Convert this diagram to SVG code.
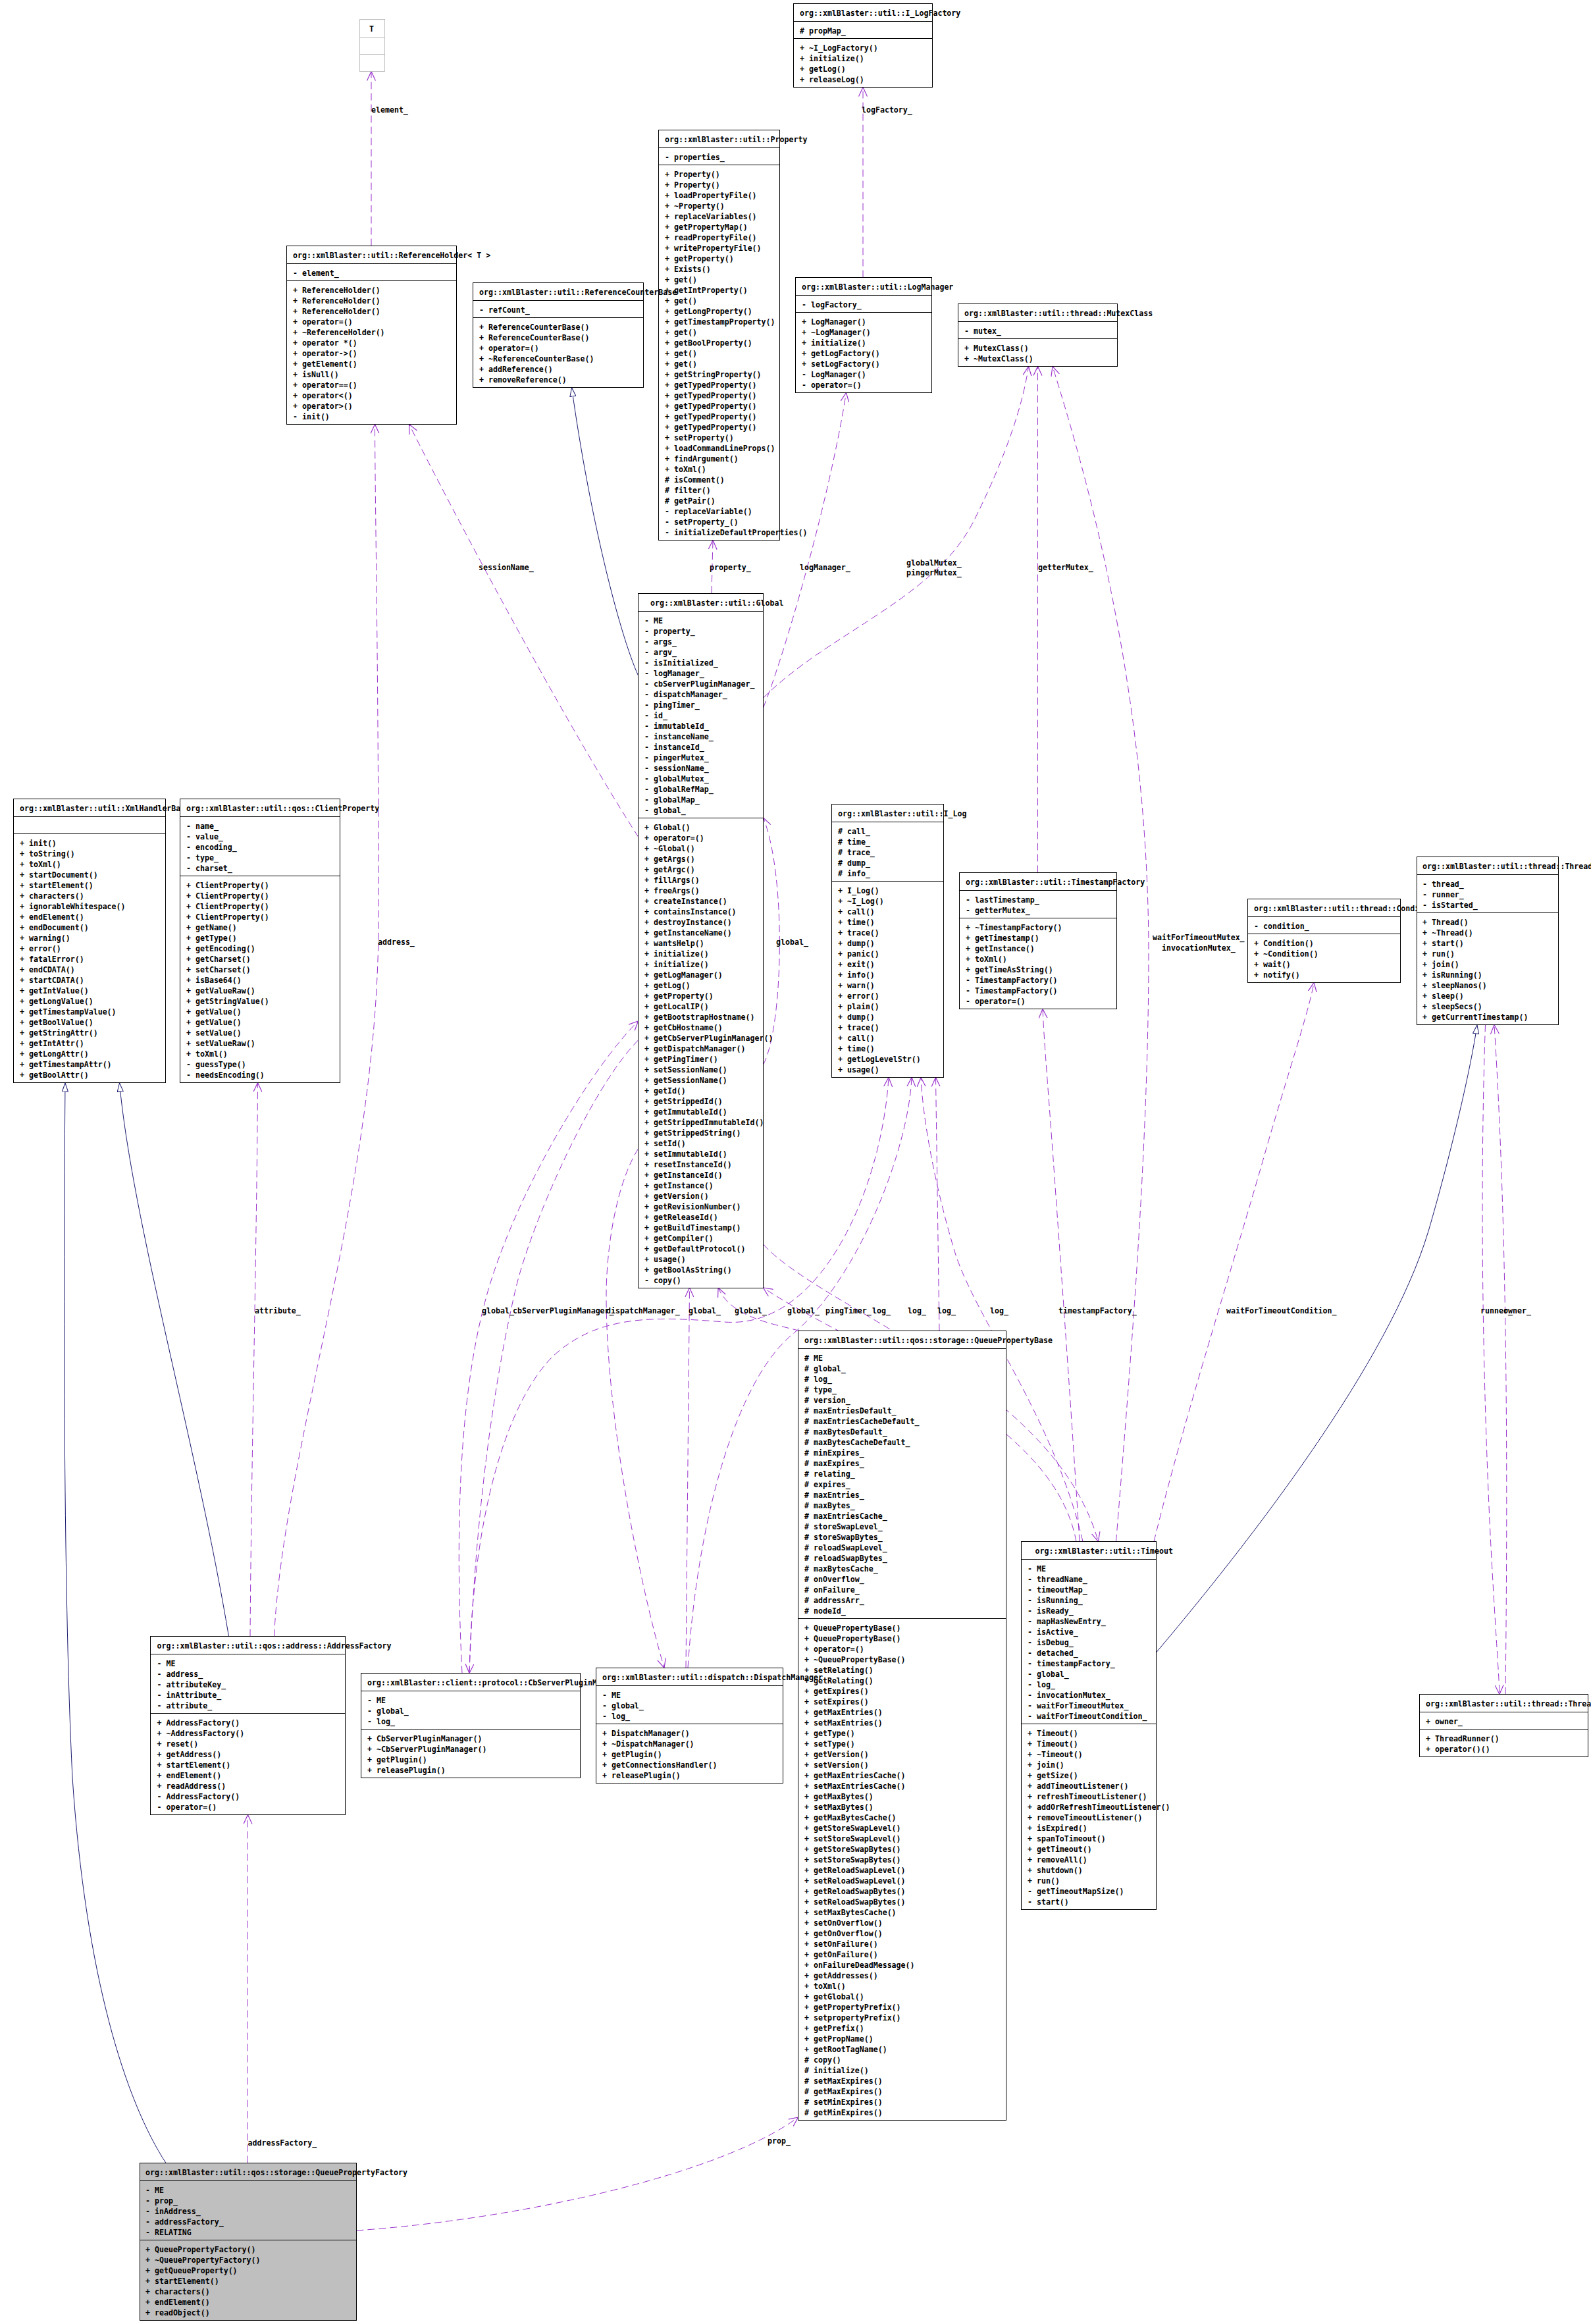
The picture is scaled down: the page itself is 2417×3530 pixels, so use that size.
<svg xmlns="http://www.w3.org/2000/svg" width="2417" height="3530" viewBox="0 0 2417 3530">
<style>
.t{font-family:"DejaVu Sans Mono","Liberation Mono",monospace;font-size:11.6px;font-weight:bold;fill:#000}
.b{fill:#fff;stroke:#000;stroke-width:1}
.gb{fill:#bfbfbf;stroke:#000;stroke-width:1}
.tb{fill:#fff;stroke:#bfbfbf;stroke-width:1}
.s{stroke:#000;stroke-width:1}
.sg{stroke:#bfbfbf;stroke-width:1}
.e{fill:none;stroke:#9a32cd;stroke-width:1;stroke-dasharray:11,6}
.i{fill:none;stroke:#191970;stroke-width:1}
</style>
<defs>
<marker id="ov" viewBox="0 0 14 14" refX="14" refY="7" markerWidth="14" markerHeight="14" orient="auto" markerUnits="userSpaceOnUse"><path d="M0,0.5 L14,7 L0,13.5" fill="none" stroke="#9a32cd" stroke-width="1.2"/></marker>
<marker id="tri" viewBox="0 0 14 10" refX="14" refY="5" markerWidth="14" markerHeight="10" orient="auto" markerUnits="userSpaceOnUse"><path d="M0.5,0.5 L13.5,5 L0.5,9.5 Z" fill="#fff" stroke="#191970" stroke-width="1"/></marker>
</defs>
<rect width="2417" height="3530" fill="#fff"/>

<g id="edges">
<path class="e" marker-end="url(#ov)" d="M564,373.5 L564,108.5"/>
<path class="e" marker-end="url(#ov)" d="M1311,421.5 L1311,132.5"/>
<path class="e" marker-end="url(#ov)" d="M969.5,1271 C860,1100 700,800 621.5,644.5"/>
<path class="e" marker-end="url(#ov)" d="M416.5,2485.5 C430,2200 575,1800 575,1400 C575,1000 570,800 569.5,644.5"/>
<path class="e" marker-end="url(#ov)" d="M380,2485.5 C382,2200 390,1900 391.5,1644.5"/>
<path class="i" marker-end="url(#tri)" d="M969.5,1026 C940,960 895,780 868.5,588.5"/>
<path class="e" marker-end="url(#ov)" d="M1081,901 L1083,820.5"/>
<path class="e" marker-end="url(#ov)" d="M1159.5,1075 C1190,1000 1260,760 1285.5,596.5"/>
<path class="e" marker-end="url(#ov)" d="M1159.5,1060 C1260,960 1420,910 1480,790 C1530,690 1555,610 1562.5,556.5"/>
<path class="e" marker-end="url(#ov)" d="M1576.5,1325.5 L1576.5,556.5"/>
<path class="e" marker-end="url(#ov)" d="M1695.5,2341.5 C1715,2100 1745,1750 1745,1450 C1745,1050 1650,720 1599,556.5"/>
<path class="e" marker-end="url(#ov)" d="M1640,2341.5 C1628,2150 1610,1900 1600,1760 C1592,1650 1586,1580 1584,1532.5"/>
<path class="e" marker-end="url(#ov)" d="M1753,2341.5 C1800,2150 1880,1900 1925,1740 C1960,1620 1990,1530 1996,1492.5"/>
<path class="i" marker-end="url(#tri)" d="M1756.5,2510 C1900,2340 2110,2070 2170,1870 C2205,1750 2235,1620 2244,1556.5"/>
<path class="e" marker-end="url(#ov)" d="M2256.5,1556.5 C2248,1800 2252,2100 2265,2350 C2272,2480 2277,2540 2278,2573.5"/>
<path class="e" marker-end="url(#ov)" d="M2287,2573.5 C2290,2300 2292,1900 2270,1556.5"/>
<path class="e" marker-end="url(#ov)" d="M1159.5,1617 C1190,1560 1195,1330 1159.5,1242"/>
<path class="e" marker-end="url(#ov)" d="M702,2541.5 C690,2300 700,2100 743,1955 C790,1800 900,1620 969.5,1551"/>
<path class="e" marker-end="url(#ov)" d="M969.5,1580 C900,1650 810,1850 784,1955 C750,2100 722,2300 713,2541.5"/>
<path class="e" marker-end="url(#ov)" d="M969.5,1745 C935,1800 921,1900 921,1968 C921,2150 970,2400 1009,2533.5"/>
<path class="e" marker-end="url(#ov)" d="M713,2541.5 C718,2300 770,2130 840,2060 C910,1995 1000,2000 1100,2008 C1250,2020 1340,1800 1350,1636.5"/>
<path class="e" marker-end="url(#ov)" d="M1042,2533.5 L1047.5,1956"/>
<path class="e" marker-end="url(#ov)" d="M1045,2533.5 C1060,2300 1120,2100 1200,2030 C1300,1950 1380,1750 1385,1636.5"/>
<path class="e" marker-end="url(#ov)" d="M1215,2021.5 C1170,2010 1110,2000 1091,1956"/>
<path class="e" marker-end="url(#ov)" d="M1427,2021.5 L1421.5,1636.5"/>
<path class="e" marker-end="url(#ov)" d="M1635,2341.5 C1600,2150 1300,2050 1159.5,1956"/>
<path class="e" marker-end="url(#ov)" d="M1159.5,1890 C1250,1990 1600,2100 1668.5,2341.5"/>
<path class="e" marker-end="url(#ov)" d="M1645,2341.5 C1600,2150 1480,2000 1450,1900 C1420,1800 1402,1700 1399,1636.5"/>
<path class="e" marker-end="url(#ov)" d="M376.5,3285.5 L376.5,2756.5"/>
<path class="e" marker-end="url(#ov)" d="M541.5,3388 C800,3370 1100,3300 1212.5,3216"/>
<path class="i" marker-end="url(#tri)" d="M252,3285.5 C190,3190 130,3000 110,2700 C95,2400 97,1900 99,1644.5"/>
<path class="i" marker-end="url(#tri)" d="M347.5,2485.5 C300,2200 200,1850 181.5,1644.5"/>
<g class="t">
<text x="564" y="171">element_</text>
<text x="1309" y="171">logFactory_</text>
<text x="727" y="866">sessionName_</text>
<text x="1078" y="866">property_</text>
<text x="1215" y="866">logManager_</text>
<text x="1377" y="859">globalMutex_</text>
<text x="1377" y="874">pingerMutex_</text>
<text x="1577" y="866">getterMutex_</text>
<text x="1751" y="1428">waitForTimeoutMutex_</text>
<text x="1765" y="1444">invocationMutex_</text>
<text x="1179" y="1435">global_</text>
<text x="574" y="1435">address_</text>
<text x="387" y="1995">attribute_</text>
<text x="732" y="1995">global_</text>
<text x="779" y="1995">cbServerPluginManager_</text>
<text x="921" y="1995">dispatchManager_</text>
<text x="1046" y="1995">global_</text>
<text x="1116" y="1995">global_</text>
<text x="1196" y="1995">global_</text>
<text x="1254" y="1995">pingTimer_</text>
<text x="1325" y="1995">log_</text>
<text x="1379" y="1995">log_</text>
<text x="1424" y="1995">log_</text>
<text x="1504" y="1995">log_</text>
<text x="1608" y="1995">timestampFactory_</text>
<text x="1863" y="1995">waitForTimeoutCondition_</text>
<text x="2249" y="1995">runner_</text>
<text x="2284" y="1995">owner_</text>
<text x="376.5" y="3259">addressFactory_</text>
<text x="1166" y="3256">prop_</text>
</g>
</g>

<g id="T">
<rect class="tb" x="546.5" y="29.5" width="38" height="79"/>
<line class="sg" x1="546.5" y1="56.5" x2="584.5" y2="56.5"/>
<line class="sg" x1="546.5" y1="82.5" x2="584.5" y2="82.5"/>
<text class="t" x="561" y="47.5">T</text>
</g>

<g id="I_LogFactory">
<rect class="b" x="1205.5" y="5.5" width="211" height="127"/>
<line class="s" x1="1205.5" y1="32.5" x2="1416.5" y2="32.5"/>
<line class="s" x1="1205.5" y1="58.5" x2="1416.5" y2="58.5"/>
<text class="t" x="1215" y="23.5">org::xmlBlaster::util::I_LogFactory</text>
<text class="t" x="1215" y="50.5"># propMap_</text>
<text class="t" x="1215" y="76.5">+ ~I_LogFactory()<tspan x="1215" dy="16">+ initialize()</tspan><tspan x="1215" dy="16">+ getLog()</tspan><tspan x="1215" dy="16">+ releaseLog()</tspan></text>
</g>

<g id="Property">
<rect class="b" x="1000.5" y="197.5" width="184" height="623"/>
<line class="s" x1="1000.5" y1="224.5" x2="1184.5" y2="224.5"/>
<line class="s" x1="1000.5" y1="250.5" x2="1184.5" y2="250.5"/>
<text class="t" x="1010" y="215.5">org::xmlBlaster::util::Property</text>
<text class="t" x="1010" y="242.5">- properties_</text>
<text class="t" x="1010" y="268.5">+ Property()<tspan x="1010" dy="16">+ Property()</tspan><tspan x="1010" dy="16">+ loadPropertyFile()</tspan><tspan x="1010" dy="16">+ ~Property()</tspan><tspan x="1010" dy="16">+ replaceVariables()</tspan><tspan x="1010" dy="16">+ getPropertyMap()</tspan><tspan x="1010" dy="16">+ readPropertyFile()</tspan><tspan x="1010" dy="16">+ writePropertyFile()</tspan><tspan x="1010" dy="16">+ getProperty()</tspan><tspan x="1010" dy="16">+ Exists()</tspan><tspan x="1010" dy="16">+ get()</tspan><tspan x="1010" dy="16">+ getIntProperty()</tspan><tspan x="1010" dy="16">+ get()</tspan><tspan x="1010" dy="16">+ getLongProperty()</tspan><tspan x="1010" dy="16">+ getTimestampProperty()</tspan><tspan x="1010" dy="16">+ get()</tspan><tspan x="1010" dy="16">+ getBoolProperty()</tspan><tspan x="1010" dy="16">+ get()</tspan><tspan x="1010" dy="16">+ get()</tspan><tspan x="1010" dy="16">+ getStringProperty()</tspan><tspan x="1010" dy="16">+ getTypedProperty()</tspan><tspan x="1010" dy="16">+ getTypedProperty()</tspan><tspan x="1010" dy="16">+ getTypedProperty()</tspan><tspan x="1010" dy="16">+ getTypedProperty()</tspan><tspan x="1010" dy="16">+ getTypedProperty()</tspan><tspan x="1010" dy="16">+ setProperty()</tspan><tspan x="1010" dy="16">+ loadCommandLineProps()</tspan><tspan x="1010" dy="16">+ findArgument()</tspan><tspan x="1010" dy="16">+ toXml()</tspan><tspan x="1010" dy="16"># isComment()</tspan><tspan x="1010" dy="16"># filter()</tspan><tspan x="1010" dy="16"># getPair()</tspan><tspan x="1010" dy="16">- replaceVariable()</tspan><tspan x="1010" dy="16">- setProperty_()</tspan><tspan x="1010" dy="16">- initializeDefaultProperties()</tspan></text>
</g>

<g id="ReferenceHolder">
<rect class="b" x="435.5" y="373.5" width="258" height="271"/>
<line class="s" x1="435.5" y1="400.5" x2="693.5" y2="400.5"/>
<line class="s" x1="435.5" y1="426.5" x2="693.5" y2="426.5"/>
<text class="t" x="445" y="391.5">org::xmlBlaster::util::ReferenceHolder&lt; T &gt;</text>
<text class="t" x="445" y="418.5">- element_</text>
<text class="t" x="445" y="444.5">+ ReferenceHolder()<tspan x="445" dy="16">+ ReferenceHolder()</tspan><tspan x="445" dy="16">+ ReferenceHolder()</tspan><tspan x="445" dy="16">+ operator=()</tspan><tspan x="445" dy="16">+ ~ReferenceHolder()</tspan><tspan x="445" dy="16">+ operator *()</tspan><tspan x="445" dy="16">+ operator-&gt;()</tspan><tspan x="445" dy="16">+ getElement()</tspan><tspan x="445" dy="16">+ isNull()</tspan><tspan x="445" dy="16">+ operator==()</tspan><tspan x="445" dy="16">+ operator&lt;()</tspan><tspan x="445" dy="16">+ operator&gt;()</tspan><tspan x="445" dy="16">- init()</tspan></text>
</g>

<g id="ReferenceCounterBase">
<rect class="b" x="718.5" y="429.5" width="259" height="159"/>
<line class="s" x1="718.5" y1="456.5" x2="977.5" y2="456.5"/>
<line class="s" x1="718.5" y1="482.5" x2="977.5" y2="482.5"/>
<text class="t" x="728" y="447.5">org::xmlBlaster::util::ReferenceCounterBase</text>
<text class="t" x="728" y="474.5">- refCount_</text>
<text class="t" x="728" y="500.5">+ ReferenceCounterBase()<tspan x="728" dy="16">+ ReferenceCounterBase()</tspan><tspan x="728" dy="16">+ operator=()</tspan><tspan x="728" dy="16">+ ~ReferenceCounterBase()</tspan><tspan x="728" dy="16">+ addReference()</tspan><tspan x="728" dy="16">+ removeReference()</tspan></text>
</g>

<g id="LogManager">
<rect class="b" x="1208.5" y="421.5" width="207" height="175"/>
<line class="s" x1="1208.5" y1="448.5" x2="1415.5" y2="448.5"/>
<line class="s" x1="1208.5" y1="474.5" x2="1415.5" y2="474.5"/>
<text class="t" x="1218" y="439.5">org::xmlBlaster::util::LogManager</text>
<text class="t" x="1218" y="466.5">- logFactory_</text>
<text class="t" x="1218" y="492.5">+ LogManager()<tspan x="1218" dy="16">+ ~LogManager()</tspan><tspan x="1218" dy="16">+ initialize()</tspan><tspan x="1218" dy="16">+ getLogFactory()</tspan><tspan x="1218" dy="16">+ setLogFactory()</tspan><tspan x="1218" dy="16">- LogManager()</tspan><tspan x="1218" dy="16">- operator=()</tspan></text>
</g>

<g id="MutexClass">
<rect class="b" x="1455.5" y="461.5" width="242" height="95"/>
<line class="s" x1="1455.5" y1="488.5" x2="1697.5" y2="488.5"/>
<line class="s" x1="1455.5" y1="514.5" x2="1697.5" y2="514.5"/>
<text class="t" x="1465" y="479.5">org::xmlBlaster::util::thread::MutexClass</text>
<text class="t" x="1465" y="506.5">- mutex_</text>
<text class="t" x="1465" y="532.5">+ MutexClass()<tspan x="1465" dy="16">+ ~MutexClass()</tspan></text>
</g>

<g id="Global">
<rect class="b" x="969.5" y="901.5" width="190" height="1055"/>
<line class="s" x1="969.5" y1="928.5" x2="1159.5" y2="928.5"/>
<line class="s" x1="969.5" y1="1242.5" x2="1159.5" y2="1242.5"/>
<text class="t" x="988" y="919.5">org::xmlBlaster::util::Global</text>
<text class="t" x="979" y="946.5">- ME<tspan x="979" dy="16">- property_</tspan><tspan x="979" dy="16">- args_</tspan><tspan x="979" dy="16">- argv_</tspan><tspan x="979" dy="16">- isInitialized_</tspan><tspan x="979" dy="16">- logManager_</tspan><tspan x="979" dy="16">- cbServerPluginManager_</tspan><tspan x="979" dy="16">- dispatchManager_</tspan><tspan x="979" dy="16">- pingTimer_</tspan><tspan x="979" dy="16">- id_</tspan><tspan x="979" dy="16">- immutableId_</tspan><tspan x="979" dy="16">- instanceName_</tspan><tspan x="979" dy="16">- instanceId_</tspan><tspan x="979" dy="16">- pingerMutex_</tspan><tspan x="979" dy="16">- sessionName_</tspan><tspan x="979" dy="16">- globalMutex_</tspan><tspan x="979" dy="16">- globalRefMap_</tspan><tspan x="979" dy="16">- globalMap_</tspan><tspan x="979" dy="16">- global_</tspan></text>
<text class="t" x="979" y="1260.5">+ Global()<tspan x="979" dy="16">+ operator=()</tspan><tspan x="979" dy="16">+ ~Global()</tspan><tspan x="979" dy="16">+ getArgs()</tspan><tspan x="979" dy="16">+ getArgc()</tspan><tspan x="979" dy="16">+ fillArgs()</tspan><tspan x="979" dy="16">+ freeArgs()</tspan><tspan x="979" dy="16">+ createInstance()</tspan><tspan x="979" dy="16">+ containsInstance()</tspan><tspan x="979" dy="16">+ destroyInstance()</tspan><tspan x="979" dy="16">+ getInstanceName()</tspan><tspan x="979" dy="16">+ wantsHelp()</tspan><tspan x="979" dy="16">+ initialize()</tspan><tspan x="979" dy="16">+ initialize()</tspan><tspan x="979" dy="16">+ getLogManager()</tspan><tspan x="979" dy="16">+ getLog()</tspan><tspan x="979" dy="16">+ getProperty()</tspan><tspan x="979" dy="16">+ getLocalIP()</tspan><tspan x="979" dy="16">+ getBootstrapHostname()</tspan><tspan x="979" dy="16">+ getCbHostname()</tspan><tspan x="979" dy="16">+ getCbServerPluginManager()</tspan><tspan x="979" dy="16">+ getDispatchManager()</tspan><tspan x="979" dy="16">+ getPingTimer()</tspan><tspan x="979" dy="16">+ setSessionName()</tspan><tspan x="979" dy="16">+ getSessionName()</tspan><tspan x="979" dy="16">+ getId()</tspan><tspan x="979" dy="16">+ getStrippedId()</tspan><tspan x="979" dy="16">+ getImmutableId()</tspan><tspan x="979" dy="16">+ getStrippedImmutableId()</tspan><tspan x="979" dy="16">+ getStrippedString()</tspan><tspan x="979" dy="16">+ setId()</tspan><tspan x="979" dy="16">+ setImmutableId()</tspan><tspan x="979" dy="16">+ resetInstanceId()</tspan><tspan x="979" dy="16">+ getInstanceId()</tspan><tspan x="979" dy="16">+ getInstance()</tspan><tspan x="979" dy="16">+ getVersion()</tspan><tspan x="979" dy="16">+ getRevisionNumber()</tspan><tspan x="979" dy="16">+ getReleaseId()</tspan><tspan x="979" dy="16">+ getBuildTimestamp()</tspan><tspan x="979" dy="16">+ getCompiler()</tspan><tspan x="979" dy="16">+ getDefaultProtocol()</tspan><tspan x="979" dy="16">+ usage()</tspan><tspan x="979" dy="16">+ getBoolAsString()</tspan><tspan x="979" dy="16">- copy()</tspan></text>
</g>

<g id="XmlHandlerBase">
<rect class="b" x="20.5" y="1213.5" width="231" height="431"/>
<line class="s" x1="20.5" y1="1240.5" x2="251.5" y2="1240.5"/>
<line class="s" x1="20.5" y1="1266.5" x2="251.5" y2="1266.5"/>
<text class="t" x="30" y="1231.5">org::xmlBlaster::util::XmlHandlerBase</text>
<text class="t" x="30" y="1284.5">+ init()<tspan x="30" dy="16">+ toString()</tspan><tspan x="30" dy="16">+ toXml()</tspan><tspan x="30" dy="16">+ startDocument()</tspan><tspan x="30" dy="16">+ startElement()</tspan><tspan x="30" dy="16">+ characters()</tspan><tspan x="30" dy="16">+ ignorableWhitespace()</tspan><tspan x="30" dy="16">+ endElement()</tspan><tspan x="30" dy="16">+ endDocument()</tspan><tspan x="30" dy="16">+ warning()</tspan><tspan x="30" dy="16">+ error()</tspan><tspan x="30" dy="16">+ fatalError()</tspan><tspan x="30" dy="16">+ endCDATA()</tspan><tspan x="30" dy="16">+ startCDATA()</tspan><tspan x="30" dy="16">+ getIntValue()</tspan><tspan x="30" dy="16">+ getLongValue()</tspan><tspan x="30" dy="16">+ getTimestampValue()</tspan><tspan x="30" dy="16">+ getBoolValue()</tspan><tspan x="30" dy="16">+ getStringAttr()</tspan><tspan x="30" dy="16">+ getIntAttr()</tspan><tspan x="30" dy="16">+ getLongAttr()</tspan><tspan x="30" dy="16">+ getTimestampAttr()</tspan><tspan x="30" dy="16">+ getBoolAttr()</tspan></text>
</g>

<g id="ClientProperty">
<rect class="b" x="273.5" y="1213.5" width="243" height="431"/>
<line class="s" x1="273.5" y1="1240.5" x2="516.5" y2="1240.5"/>
<line class="s" x1="273.5" y1="1330.5" x2="516.5" y2="1330.5"/>
<text class="t" x="283" y="1231.5">org::xmlBlaster::util::qos::ClientProperty</text>
<text class="t" x="283" y="1258.5">- name_<tspan x="283" dy="16">- value_</tspan><tspan x="283" dy="16">- encoding_</tspan><tspan x="283" dy="16">- type_</tspan><tspan x="283" dy="16">- charset_</tspan></text>
<text class="t" x="283" y="1348.5">+ ClientProperty()<tspan x="283" dy="16">+ ClientProperty()</tspan><tspan x="283" dy="16">+ ClientProperty()</tspan><tspan x="283" dy="16">+ ClientProperty()</tspan><tspan x="283" dy="16">+ getName()</tspan><tspan x="283" dy="16">+ getType()</tspan><tspan x="283" dy="16">+ getEncoding()</tspan><tspan x="283" dy="16">+ getCharset()</tspan><tspan x="283" dy="16">+ setCharset()</tspan><tspan x="283" dy="16">+ isBase64()</tspan><tspan x="283" dy="16">+ getValueRaw()</tspan><tspan x="283" dy="16">+ getStringValue()</tspan><tspan x="283" dy="16">+ getValue()</tspan><tspan x="283" dy="16">+ getValue()</tspan><tspan x="283" dy="16">+ setValue()</tspan><tspan x="283" dy="16">+ setValueRaw()</tspan><tspan x="283" dy="16">+ toXml()</tspan><tspan x="283" dy="16">- guessType()</tspan><tspan x="283" dy="16">- needsEncoding()</tspan></text>
</g>

<g id="I_Log">
<rect class="b" x="1263.5" y="1221.5" width="170" height="415"/>
<line class="s" x1="1263.5" y1="1248.5" x2="1433.5" y2="1248.5"/>
<line class="s" x1="1263.5" y1="1338.5" x2="1433.5" y2="1338.5"/>
<text class="t" x="1273" y="1239.5">org::xmlBlaster::util::I_Log</text>
<text class="t" x="1273" y="1266.5"># call_<tspan x="1273" dy="16"># time_</tspan><tspan x="1273" dy="16"># trace_</tspan><tspan x="1273" dy="16"># dump_</tspan><tspan x="1273" dy="16"># info_</tspan></text>
<text class="t" x="1273" y="1356.5">+ I_Log()<tspan x="1273" dy="16">+ ~I_Log()</tspan><tspan x="1273" dy="16">+ call()</tspan><tspan x="1273" dy="16">+ time()</tspan><tspan x="1273" dy="16">+ trace()</tspan><tspan x="1273" dy="16">+ dump()</tspan><tspan x="1273" dy="16">+ panic()</tspan><tspan x="1273" dy="16">+ exit()</tspan><tspan x="1273" dy="16">+ info()</tspan><tspan x="1273" dy="16">+ warn()</tspan><tspan x="1273" dy="16">+ error()</tspan><tspan x="1273" dy="16">+ plain()</tspan><tspan x="1273" dy="16">+ dump()</tspan><tspan x="1273" dy="16">+ trace()</tspan><tspan x="1273" dy="16">+ call()</tspan><tspan x="1273" dy="16">+ time()</tspan><tspan x="1273" dy="16">+ getLogLevelStr()</tspan><tspan x="1273" dy="16">+ usage()</tspan></text>
</g>

<g id="TimestampFactory">
<rect class="b" x="1457.5" y="1325.5" width="239" height="207"/>
<line class="s" x1="1457.5" y1="1352.5" x2="1696.5" y2="1352.5"/>
<line class="s" x1="1457.5" y1="1394.5" x2="1696.5" y2="1394.5"/>
<text class="t" x="1467" y="1343.5">org::xmlBlaster::util::TimestampFactory</text>
<text class="t" x="1467" y="1370.5">- lastTimestamp_<tspan x="1467" dy="16">- getterMutex_</tspan></text>
<text class="t" x="1467" y="1412.5">+ ~TimestampFactory()<tspan x="1467" dy="16">+ getTimestamp()</tspan><tspan x="1467" dy="16">+ getInstance()</tspan><tspan x="1467" dy="16">+ toXml()</tspan><tspan x="1467" dy="16">+ getTimeAsString()</tspan><tspan x="1467" dy="16">- TimestampFactory()</tspan><tspan x="1467" dy="16">- TimestampFactory()</tspan><tspan x="1467" dy="16">- operator=()</tspan></text>
</g>

<g id="Condition">
<rect class="b" x="1895.5" y="1365.5" width="232" height="127"/>
<line class="s" x1="1895.5" y1="1392.5" x2="2127.5" y2="1392.5"/>
<line class="s" x1="1895.5" y1="1418.5" x2="2127.5" y2="1418.5"/>
<text class="t" x="1905" y="1383.5">org::xmlBlaster::util::thread::Condition</text>
<text class="t" x="1905" y="1410.5">- condition_</text>
<text class="t" x="1905" y="1436.5">+ Condition()<tspan x="1905" dy="16">+ ~Condition()</tspan><tspan x="1905" dy="16">+ wait()</tspan><tspan x="1905" dy="16">+ notify()</tspan></text>
</g>

<g id="Thread">
<rect class="b" x="2152.5" y="1301.5" width="215" height="255"/>
<line class="s" x1="2152.5" y1="1328.5" x2="2367.5" y2="1328.5"/>
<line class="s" x1="2152.5" y1="1386.5" x2="2367.5" y2="1386.5"/>
<text class="t" x="2161" y="1319.5">org::xmlBlaster::util::thread::Thread</text>
<text class="t" x="2161" y="1346.5">- thread_<tspan x="2161" dy="16">- runner_</tspan><tspan x="2161" dy="16">- isStarted_</tspan></text>
<text class="t" x="2161" y="1404.5">+ Thread()<tspan x="2161" dy="16">+ ~Thread()</tspan><tspan x="2161" dy="16">+ start()</tspan><tspan x="2161" dy="16">+ run()</tspan><tspan x="2161" dy="16">+ join()</tspan><tspan x="2161" dy="16">+ isRunning()</tspan><tspan x="2161" dy="16">+ sleepNanos()</tspan><tspan x="2161" dy="16">+ sleep()</tspan><tspan x="2161" dy="16">+ sleepSecs()</tspan><tspan x="2161" dy="16">+ getCurrentTimestamp()</tspan></text>
</g>

<g id="QueuePropertyBase">
<rect class="b" x="1212.5" y="2021.5" width="316" height="1199"/>
<line class="s" x1="1212.5" y1="2048.5" x2="1528.5" y2="2048.5"/>
<line class="s" x1="1212.5" y1="2458.5" x2="1528.5" y2="2458.5"/>
<text class="t" x="1222" y="2039.5">org::xmlBlaster::util::qos::storage::QueuePropertyBase</text>
<text class="t" x="1222" y="2066.5"># ME<tspan x="1222" dy="16"># global_</tspan><tspan x="1222" dy="16"># log_</tspan><tspan x="1222" dy="16"># type_</tspan><tspan x="1222" dy="16"># version_</tspan><tspan x="1222" dy="16"># maxEntriesDefault_</tspan><tspan x="1222" dy="16"># maxEntriesCacheDefault_</tspan><tspan x="1222" dy="16"># maxBytesDefault_</tspan><tspan x="1222" dy="16"># maxBytesCacheDefault_</tspan><tspan x="1222" dy="16"># minExpires_</tspan><tspan x="1222" dy="16"># maxExpires_</tspan><tspan x="1222" dy="16"># relating_</tspan><tspan x="1222" dy="16"># expires_</tspan><tspan x="1222" dy="16"># maxEntries_</tspan><tspan x="1222" dy="16"># maxBytes_</tspan><tspan x="1222" dy="16"># maxEntriesCache_</tspan><tspan x="1222" dy="16"># storeSwapLevel_</tspan><tspan x="1222" dy="16"># storeSwapBytes_</tspan><tspan x="1222" dy="16"># reloadSwapLevel_</tspan><tspan x="1222" dy="16"># reloadSwapBytes_</tspan><tspan x="1222" dy="16"># maxBytesCache_</tspan><tspan x="1222" dy="16"># onOverflow_</tspan><tspan x="1222" dy="16"># onFailure_</tspan><tspan x="1222" dy="16"># addressArr_</tspan><tspan x="1222" dy="16"># nodeId_</tspan></text>
<text class="t" x="1222" y="2476.5">+ QueuePropertyBase()<tspan x="1222" dy="16">+ QueuePropertyBase()</tspan><tspan x="1222" dy="16">+ operator=()</tspan><tspan x="1222" dy="16">+ ~QueuePropertyBase()</tspan><tspan x="1222" dy="16">+ setRelating()</tspan><tspan x="1222" dy="16">+ getRelating()</tspan><tspan x="1222" dy="16">+ getExpires()</tspan><tspan x="1222" dy="16">+ setExpires()</tspan><tspan x="1222" dy="16">+ getMaxEntries()</tspan><tspan x="1222" dy="16">+ setMaxEntries()</tspan><tspan x="1222" dy="16">+ getType()</tspan><tspan x="1222" dy="16">+ setType()</tspan><tspan x="1222" dy="16">+ getVersion()</tspan><tspan x="1222" dy="16">+ setVersion()</tspan><tspan x="1222" dy="16">+ getMaxEntriesCache()</tspan><tspan x="1222" dy="16">+ setMaxEntriesCache()</tspan><tspan x="1222" dy="16">+ getMaxBytes()</tspan><tspan x="1222" dy="16">+ setMaxBytes()</tspan><tspan x="1222" dy="16">+ getMaxBytesCache()</tspan><tspan x="1222" dy="16">+ getStoreSwapLevel()</tspan><tspan x="1222" dy="16">+ setStoreSwapLevel()</tspan><tspan x="1222" dy="16">+ getStoreSwapBytes()</tspan><tspan x="1222" dy="16">+ setStoreSwapBytes()</tspan><tspan x="1222" dy="16">+ getReloadSwapLevel()</tspan><tspan x="1222" dy="16">+ setReloadSwapLevel()</tspan><tspan x="1222" dy="16">+ getReloadSwapBytes()</tspan><tspan x="1222" dy="16">+ setReloadSwapBytes()</tspan><tspan x="1222" dy="16">+ setMaxBytesCache()</tspan><tspan x="1222" dy="16">+ setOnOverflow()</tspan><tspan x="1222" dy="16">+ getOnOverflow()</tspan><tspan x="1222" dy="16">+ setOnFailure()</tspan><tspan x="1222" dy="16">+ getOnFailure()</tspan><tspan x="1222" dy="16">+ onFailureDeadMessage()</tspan><tspan x="1222" dy="16">+ getAddresses()</tspan><tspan x="1222" dy="16">+ toXml()</tspan><tspan x="1222" dy="16">+ getGlobal()</tspan><tspan x="1222" dy="16">+ getPropertyPrefix()</tspan><tspan x="1222" dy="16">+ setpropertyPrefix()</tspan><tspan x="1222" dy="16">+ getPrefix()</tspan><tspan x="1222" dy="16">+ getPropName()</tspan><tspan x="1222" dy="16">+ getRootTagName()</tspan><tspan x="1222" dy="16"># copy()</tspan><tspan x="1222" dy="16"># initialize()</tspan><tspan x="1222" dy="16"># setMaxExpires()</tspan><tspan x="1222" dy="16"># getMaxExpires()</tspan><tspan x="1222" dy="16"># setMinExpires()</tspan><tspan x="1222" dy="16"># getMinExpires()</tspan></text>
</g>

<g id="Timeout">
<rect class="b" x="1551.5" y="2341.5" width="205" height="559"/>
<line class="s" x1="1551.5" y1="2368.5" x2="1756.5" y2="2368.5"/>
<line class="s" x1="1551.5" y1="2618.5" x2="1756.5" y2="2618.5"/>
<text class="t" x="1572.5" y="2359.5">org::xmlBlaster::util::Timeout</text>
<text class="t" x="1561" y="2386.5">- ME<tspan x="1561" dy="16">- threadName_</tspan><tspan x="1561" dy="16">- timeoutMap_</tspan><tspan x="1561" dy="16">- isRunning_</tspan><tspan x="1561" dy="16">- isReady_</tspan><tspan x="1561" dy="16">- mapHasNewEntry_</tspan><tspan x="1561" dy="16">- isActive_</tspan><tspan x="1561" dy="16">- isDebug_</tspan><tspan x="1561" dy="16">- detached_</tspan><tspan x="1561" dy="16">- timestampFactory_</tspan><tspan x="1561" dy="16">- global_</tspan><tspan x="1561" dy="16">- log_</tspan><tspan x="1561" dy="16">- invocationMutex_</tspan><tspan x="1561" dy="16">- waitForTimeoutMutex_</tspan><tspan x="1561" dy="16">- waitForTimeoutCondition_</tspan></text>
<text class="t" x="1561" y="2636.5">+ Timeout()<tspan x="1561" dy="16">+ Timeout()</tspan><tspan x="1561" dy="16">+ ~Timeout()</tspan><tspan x="1561" dy="16">+ join()</tspan><tspan x="1561" dy="16">+ getSize()</tspan><tspan x="1561" dy="16">+ addTimeoutListener()</tspan><tspan x="1561" dy="16">+ refreshTimeoutListener()</tspan><tspan x="1561" dy="16">+ addOrRefreshTimeoutListener()</tspan><tspan x="1561" dy="16">+ removeTimeoutListener()</tspan><tspan x="1561" dy="16">+ isExpired()</tspan><tspan x="1561" dy="16">+ spanToTimeout()</tspan><tspan x="1561" dy="16">+ getTimeout()</tspan><tspan x="1561" dy="16">+ removeAll()</tspan><tspan x="1561" dy="16">+ shutdown()</tspan><tspan x="1561" dy="16">+ run()</tspan><tspan x="1561" dy="16">- getTimeoutMapSize()</tspan><tspan x="1561" dy="16">- start()</tspan></text>
</g>

<g id="AddressFactory">
<rect class="b" x="228.5" y="2485.5" width="296" height="271"/>
<line class="s" x1="228.5" y1="2512.5" x2="524.5" y2="2512.5"/>
<line class="s" x1="228.5" y1="2602.5" x2="524.5" y2="2602.5"/>
<text class="t" x="238.5" y="2503.5">org::xmlBlaster::util::qos::address::AddressFactory</text>
<text class="t" x="238.5" y="2530.5">- ME<tspan x="238.5" dy="16">- address_</tspan><tspan x="238.5" dy="16">- attributeKey_</tspan><tspan x="238.5" dy="16">- inAttribute_</tspan><tspan x="238.5" dy="16">- attribute_</tspan></text>
<text class="t" x="238.5" y="2620.5">+ AddressFactory()<tspan x="238.5" dy="16">+ ~AddressFactory()</tspan><tspan x="238.5" dy="16">+ reset()</tspan><tspan x="238.5" dy="16">+ getAddress()</tspan><tspan x="238.5" dy="16">+ startElement()</tspan><tspan x="238.5" dy="16">+ endElement()</tspan><tspan x="238.5" dy="16">+ readAddress()</tspan><tspan x="238.5" dy="16">- AddressFactory()</tspan><tspan x="238.5" dy="16">- operator=()</tspan></text>
</g>

<g id="CbServerPluginManager">
<rect class="b" x="548.5" y="2541.5" width="333" height="159"/>
<line class="s" x1="548.5" y1="2568.5" x2="881.5" y2="2568.5"/>
<line class="s" x1="548.5" y1="2626.5" x2="881.5" y2="2626.5"/>
<text class="t" x="558" y="2559.5">org::xmlBlaster::client::protocol::CbServerPluginManager</text>
<text class="t" x="558" y="2586.5">- ME<tspan x="558" dy="16">- global_</tspan><tspan x="558" dy="16">- log_</tspan></text>
<text class="t" x="558" y="2644.5">+ CbServerPluginManager()<tspan x="558" dy="16">+ ~CbServerPluginManager()</tspan><tspan x="558" dy="16">+ getPlugin()</tspan><tspan x="558" dy="16">+ releasePlugin()</tspan></text>
</g>

<g id="DispatchManager">
<rect class="b" x="905.5" y="2533.5" width="284" height="175"/>
<line class="s" x1="905.5" y1="2560.5" x2="1189.5" y2="2560.5"/>
<line class="s" x1="905.5" y1="2618.5" x2="1189.5" y2="2618.5"/>
<text class="t" x="915" y="2551.5">org::xmlBlaster::util::dispatch::DispatchManager</text>
<text class="t" x="915" y="2578.5">- ME<tspan x="915" dy="16">- global_</tspan><tspan x="915" dy="16">- log_</tspan></text>
<text class="t" x="915" y="2636.5">+ DispatchManager()<tspan x="915" dy="16">+ ~DispatchManager()</tspan><tspan x="915" dy="16">+ getPlugin()</tspan><tspan x="915" dy="16">+ getConnectionsHandler()</tspan><tspan x="915" dy="16">+ releasePlugin()</tspan></text>
</g>

<g id="ThreadRunner">
<rect class="b" x="2156.5" y="2573.5" width="256" height="95"/>
<line class="s" x1="2156.5" y1="2600.5" x2="2412.5" y2="2600.5"/>
<line class="s" x1="2156.5" y1="2626.5" x2="2412.5" y2="2626.5"/>
<text class="t" x="2166" y="2591.5">org::xmlBlaster::util::thread::ThreadRunner</text>
<text class="t" x="2166" y="2618.5">+ owner_</text>
<text class="t" x="2166" y="2644.5">+ ThreadRunner()<tspan x="2166" dy="16">+ operator()()</tspan></text>
</g>

<g id="QueuePropertyFactory">
<rect class="gb" x="212.5" y="3285.5" width="329" height="239"/>
<line class="s" x1="212.5" y1="3312.5" x2="541.5" y2="3312.5"/>
<line class="s" x1="212.5" y1="3402.5" x2="541.5" y2="3402.5"/>
<text class="t" x="221" y="3303.5">org::xmlBlaster::util::qos::storage::QueuePropertyFactory</text>
<text class="t" x="221" y="3330.5">- ME<tspan x="221" dy="16">- prop_</tspan><tspan x="221" dy="16">- inAddress_</tspan><tspan x="221" dy="16">- addressFactory_</tspan><tspan x="221" dy="16">- RELATING</tspan></text>
<text class="t" x="221" y="3420.5">+ QueuePropertyFactory()<tspan x="221" dy="16">+ ~QueuePropertyFactory()</tspan><tspan x="221" dy="16">+ getQueueProperty()</tspan><tspan x="221" dy="16">+ startElement()</tspan><tspan x="221" dy="16">+ characters()</tspan><tspan x="221" dy="16">+ endElement()</tspan><tspan x="221" dy="16">+ readObject()</tspan></text>
</g>
</svg>
